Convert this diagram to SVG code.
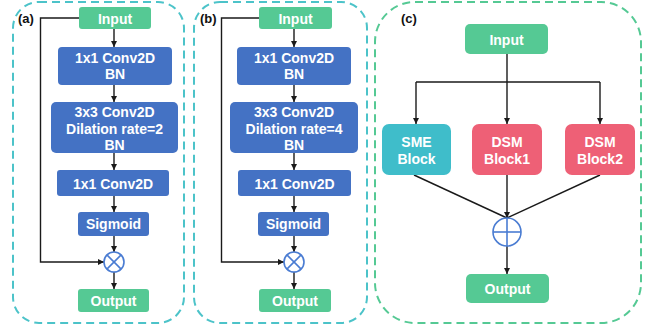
<svg xmlns="http://www.w3.org/2000/svg" width="662" height="326" viewBox="0 0 662 326">
<style>
.blue{fill:#4472c4}
.green{fill:#55c994}
.cyan{fill:#3fbdca}
.red{fill:#ee6076}
.t{font-family:"Liberation Sans",Arial,sans-serif;font-weight:bold;font-size:14px;fill:#fff;text-anchor:middle}
.lab{font-family:"Liberation Sans",Arial,sans-serif;font-weight:bold;font-size:13px;fill:#111}
.ln{stroke:#1a1a1a;stroke-width:1.4;fill:none}
.op{fill:#fff;stroke:#4a7cd2;stroke-width:1.6}
.pa{fill:none;stroke:#4cc3c9;stroke-width:2;stroke-dasharray:8 5}
.pc{fill:none;stroke:#55c994;stroke-width:2;stroke-dasharray:8 5}
</style>
<defs>
<marker id="ar" viewBox="0 0 8 8" refX="8" refY="4" markerWidth="6" markerHeight="6" markerUnits="userSpaceOnUse" orient="auto">
<path d="M0,0 L8,4 L0,8 z" fill="#1a1a1a"/>
</marker>
</defs>
<g id="panels">
<rect class="pa" x="13" y="2" width="171" height="321" rx="26"/>
<rect class="pa" x="194" y="2" width="173" height="321" rx="26"/>
<rect class="pc" x="375" y="2" width="266" height="321" rx="40"/>
<text class="lab" x="18" y="23">(a)</text>
<text class="lab" x="200" y="23">(b)</text>
<text class="lab" x="401" y="23">(c)</text>
</g>
<g id="connectors">
<line class="ln" x1="114" y1="29" x2="114" y2="47" marker-end="url(#ar)"/>
<line class="ln" x1="114" y1="85" x2="114" y2="102" marker-end="url(#ar)"/>
<line class="ln" x1="114" y1="153" x2="114" y2="170" marker-end="url(#ar)"/>
<line class="ln" x1="114" y1="196" x2="114" y2="212" marker-end="url(#ar)"/>
<line class="ln" x1="114" y1="236" x2="114" y2="252" marker-end="url(#ar)"/>
<line class="ln" x1="114" y1="272" x2="114" y2="289" marker-end="url(#ar)"/>
<polyline class="ln" points="79,18 40.5,18 40.5,262 104,262" marker-end="url(#ar)"/>
<line class="ln" x1="294" y1="29" x2="294" y2="47" marker-end="url(#ar)"/>
<line class="ln" x1="294" y1="85" x2="294" y2="102" marker-end="url(#ar)"/>
<line class="ln" x1="294" y1="153" x2="294" y2="170" marker-end="url(#ar)"/>
<line class="ln" x1="294" y1="196" x2="294" y2="212" marker-end="url(#ar)"/>
<line class="ln" x1="294" y1="236" x2="294" y2="252" marker-end="url(#ar)"/>
<line class="ln" x1="294" y1="272" x2="294" y2="289" marker-end="url(#ar)"/>
<polyline class="ln" points="259,18 221.5,18 221.5,262 284,262" marker-end="url(#ar)"/>
<line class="ln" x1="507" y1="54" x2="507" y2="82"/>
<line class="ln" x1="416" y1="82" x2="600" y2="82"/>
<line class="ln" x1="416" y1="82" x2="416" y2="124" marker-end="url(#ar)"/>
<line class="ln" x1="507" y1="82" x2="507" y2="124" marker-end="url(#ar)"/>
<line class="ln" x1="600" y1="82" x2="600" y2="124" marker-end="url(#ar)"/>
<line class="ln" x1="414" y1="175" x2="507" y2="218"/>
<line class="ln" x1="507" y1="175" x2="507" y2="218" marker-end="url(#ar)"/>
<line class="ln" x1="600" y1="175" x2="507" y2="218"/>
<line class="ln" x1="507" y1="246" x2="507" y2="274" marker-end="url(#ar)"/>
</g>
<g id="a_input"><rect class="green" x="79" y="7" width="72" height="22" rx="3"/><text class="t" x="115" y="23.5">Input</text></g>
<g id="a_conv1"><rect class="blue" x="58" y="47" width="114" height="38" rx="4"/><text class="t" x="115" y="63">1x1 Conv2D</text><text class="t" x="115" y="78.5">BN</text></g>
<g id="a_conv3"><rect class="blue" x="51" y="102" width="127" height="51" rx="5"/><text class="t" x="114.5" y="117">3x3 Conv2D</text><text class="t" x="114.5" y="133.5">Dilation rate=2</text><text class="t" x="114.5" y="150">BN</text></g>
<g id="a_conv1b"><rect class="blue" x="57" y="170" width="112" height="26" rx="3"/><text class="t" x="113" y="188.5">1x1 Conv2D</text></g>
<g id="a_sig"><rect class="blue" x="78" y="212" width="71" height="24" rx="3"/><text class="t" x="113.5" y="229">Sigmoid</text></g>
<g id="a_mul"><circle class="op" cx="114" cy="262" r="10"/><line class="op" x1="106.9" y1="254.9" x2="121.1" y2="269.1"/><line class="op" x1="121.1" y1="254.9" x2="106.9" y2="269.1"/></g>
<g id="a_output"><rect class="green" x="78" y="289" width="71" height="23" rx="3"/><text class="t" x="113.5" y="305.5">Output</text></g>
<g id="b_input"><rect class="green" x="259" y="7" width="73" height="22" rx="3"/><text class="t" x="295.5" y="23.5">Input</text></g>
<g id="b_conv1"><rect class="blue" x="237" y="47" width="114" height="38" rx="4"/><text class="t" x="294" y="63">1x1 Conv2D</text><text class="t" x="294" y="78.5">BN</text></g>
<g id="b_conv3"><rect class="blue" x="230" y="102" width="128" height="51" rx="5"/><text class="t" x="294" y="117">3x3 Conv2D</text><text class="t" x="294" y="133.5">Dilation rate=4</text><text class="t" x="294" y="150">BN</text></g>
<g id="b_conv1b"><rect class="blue" x="238" y="170" width="113" height="26" rx="3"/><text class="t" x="294.5" y="188.5">1x1 Conv2D</text></g>
<g id="b_sig"><rect class="blue" x="258" y="212" width="71" height="24" rx="3"/><text class="t" x="293.5" y="229">Sigmoid</text></g>
<g id="b_mul"><circle class="op" cx="294" cy="262" r="10"/><line class="op" x1="286.9" y1="254.9" x2="301.1" y2="269.1"/><line class="op" x1="301.1" y1="254.9" x2="286.9" y2="269.1"/></g>
<g id="b_output"><rect class="green" x="259" y="289" width="72" height="23" rx="3"/><text class="t" x="295" y="305.5">Output</text></g>
<g id="c_input"><rect class="green" x="465" y="24" width="83" height="30" rx="5"/><text class="t" x="506.5" y="45">Input</text></g>
<g id="c_sme"><rect class="cyan" x="382" y="124" width="69" height="51" rx="7"/><text class="t" x="416.5" y="146.5">SME</text><text class="t" x="416.5" y="164">Block</text></g>
<g id="c_dsm1"><rect class="red" x="472" y="124" width="70" height="51" rx="7"/><text class="t" x="507" y="146.5">DSM</text><text class="t" x="507" y="164">Block1</text></g>
<g id="c_dsm2"><rect class="red" x="565" y="124" width="70" height="51" rx="7"/><text class="t" x="600" y="146.5">DSM</text><text class="t" x="600" y="164">Block2</text></g>
<g id="c_add"><circle class="op" cx="507" cy="232" r="14"/><line class="op" x1="493" y1="232" x2="521" y2="232"/><line class="op" x1="507" y1="218" x2="507" y2="246"/></g>
<g id="c_output"><rect class="green" x="466" y="274" width="83" height="29" rx="5"/><text class="t" x="507.5" y="294">Output</text></g>
</svg>
